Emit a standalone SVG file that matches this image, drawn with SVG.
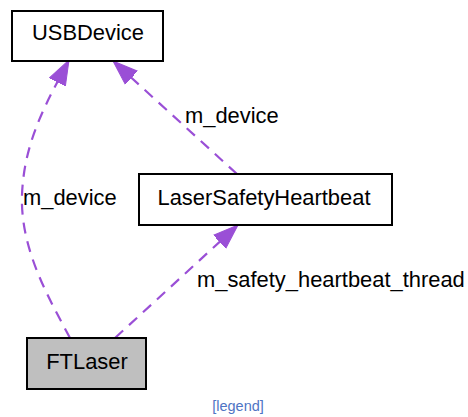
<svg xmlns="http://www.w3.org/2000/svg" width="468" height="417" viewBox="0 0 468 417">
<style>
.box{stroke:#000;stroke-width:2;fill:#fff}
.cur{fill:#bfbfbf}
.lbl{font-family:"Liberation Sans",Arial,Helvetica,sans-serif;font-size:21.9px;fill:#000}
.ctr{text-anchor:middle}
.edge{fill:none;stroke:#9a4fd6;stroke-width:2.2;stroke-dasharray:11,8;marker-end:url(#ah)}
.leg{font-family:"Liberation Sans",Arial,sans-serif;font-size:14.5px;fill:#4f74c4;text-anchor:middle}
</style>
<defs>
<marker id="ah" markerUnits="userSpaceOnUse" markerWidth="26" markerHeight="20" refX="25" refY="10" orient="auto">
<path d="M0,1 L25,10 L0,19 z" fill="#9a4fd6" stroke="#9a4fd6" stroke-width="1"/>
</marker>
</defs>
<g id="edges">
<path class="edge" d="M70,338 C50,300 20,250 22,195 C24,140 48,100 69,60"/>
<path class="edge" d="M237,174 L113,61"/>
<path class="edge" d="M115,338 L238,225"/>
<text class="lbl" x="185" y="123">m_device</text>
<text class="lbl" x="23" y="205">m_device</text>
<text class="lbl" x="197" y="287">m_safety_heartbeat_thread</text>
</g>
<g id="USBDevice">
<rect class="box" x="12" y="11" width="151" height="50"/>
<text class="lbl ctr" x="88" y="40">USBDevice</text>
</g>
<g id="LaserSafetyHeartbeat">
<rect class="box" x="139" y="174" width="253" height="51"/>
<text class="lbl ctr" x="264" y="205">LaserSafetyHeartbeat</text>
</g>
<g id="FTLaser">
<rect class="box cur" x="27" y="338" width="119" height="51"/>
<text class="lbl ctr" x="87" y="369">FTLaser</text>
</g>
<text class="leg" x="238" y="411">[legend]</text>
</svg>
